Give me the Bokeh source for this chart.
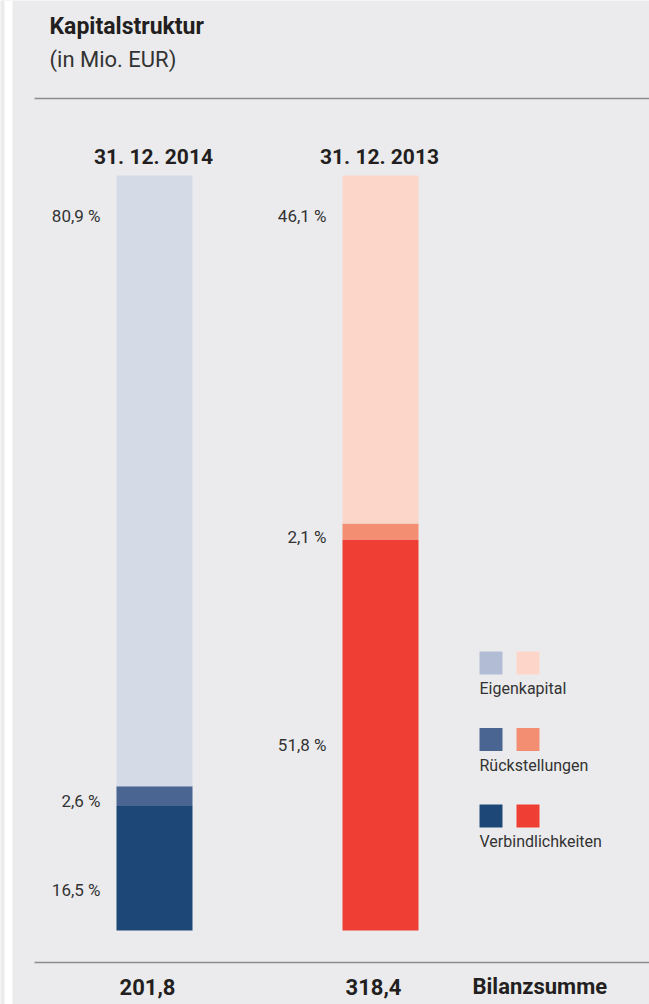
from bokeh.plotting import figure
from bokeh.models import Range1d
from bokeh.embed import file_html
from bokeh.resources import INLINE
from bokeh.core.properties import value

# ---- data ----
dates = ["31. 12. 2014", "31. 12. 2013"]
totals = ["201,8", "318,4"]
categories = ["Verbindlichkeiten", "Rückstellungen", "Eigenkapital"]  # bottom -> top
shares_2014 = [16.5, 2.6, 80.9]
shares_2013 = [51.8, 2.1, 46.1]
colors_2014 = ["#1c4777", "#4b6593", "#d4dbe7"]
colors_2013 = ["#ef3e33", "#f48e72", "#fcd6c8"]
legend_blue = ["#1c4777", "#4b6593", "#b2bdd5"]
legend_red = ["#ef3e33", "#f48e72", "#fdd6c9"]
# label anchor (in %) for each segment's value label
label_pos_2014 = [5.4, 17.1, 94.7]
label_pos_2013 = [24.6, 52.1, 94.7]

FONT = value("Roboto")
BG = "#ebebed"

# ---- layout: x in page px, y in percent of bar height ----
PX = 7.55      # px per percent
BASE = 930     # page y of 0 %
def py(ref_y):
    return (BASE - ref_y) / PX

W, H = 649, 1004
p = figure(width=W, height=H, output_backend="svg", toolbar_location=None,
           x_range=Range1d(0, W), y_range=Range1d(py(H), py(0)),
           min_border=0)
p.background_fill_color = BG
p.border_fill_color = BG
p.outline_line_color = None
p.axis.visible = False
p.grid.visible = False

# white strip at the left
p.quad(left=[4], right=[12], bottom=[py(H)], top=[py(0)],
       fill_color="white", line_color=None)

# rules
p.segment(x0=[34, 34], x1=[649, 649], y0=[py(98), py(962)], y1=[py(98), py(962)],
          line_color="#8c8c8c", line_width=1.6)

# title
p.text(x=[49], y=[py(26)], text=["Kapitalstruktur"], text_font=FONT,
       text_font_size="23px", text_font_style="bold", text_color="#231f20",
       text_baseline="alphabetic")
p.text(x=[49], y=[py(59)], text=["(in Mio. EUR)"], text_font=FONT,
       text_font_size="22px", text_color="#333333", text_baseline="alphabetic")

series = [(shares_2014, colors_2014, label_pos_2014),
          (shares_2013, colors_2013, label_pos_2013)]
BAR_W = 76
for i, (shares, cols, lpos) in enumerate(series):
    xc = 154 + 226 * i
    bottoms, tops = [], []
    acc = 0.0
    for s in shares:
        bottoms.append(acc)
        acc += s
        tops.append(acc)
    p.vbar(x=[xc] * len(shares), width=BAR_W, bottom=bottoms, top=tops,
           fill_color=cols, line_color=None)
    labels = [f"{s:.1f}".replace(".", ",") + " %" for s in shares]
    p.text(x=[xc - BAR_W / 2 - 16] * len(shares), y=lpos, text=labels,
           text_font=FONT, text_font_size="17px", text_color="#333333",
           text_align="right", text_baseline="alphabetic")
    p.text(x=[xc - 1], y=[py(156)], text=[dates[i]], text_font=FONT,
           text_font_size="21px", text_font_style="bold", text_color="#231f20",
           text_align="center", text_baseline="alphabetic")
    p.text(x=[xc - 7], y=[py(986)], text=[totals[i]], text_font=FONT,
           text_font_size="22px", text_font_style="bold", text_color="#231f20",
           text_align="center", text_baseline="alphabetic")

p.text(x=[472], y=[py(986)], text=["Bilanzsumme"], text_font=FONT,
       text_font_size="22px", text_font_style="bold", text_color="#231f20",
       text_baseline="alphabetic")

# legend (top -> bottom: Eigenkapital, Rückstellungen, Verbindlichkeiten)
for j, k in enumerate([2, 1, 0]):
    top = 651 + 76.5 * j
    p.quad(left=[479, 516], right=[502, 539], top=[py(top)] * 2,
           bottom=[py(top + 23)] * 2, fill_color=[legend_blue[k], legend_red[k]],
           line_color=None)
    p.text(x=[479], y=[py(top + 37)], text=[categories[k]], text_font=FONT,
           text_font_size="16px", text_color="#333333", text_baseline="alphabetic")

open("out.html", "w").write(file_html(p, INLINE))
